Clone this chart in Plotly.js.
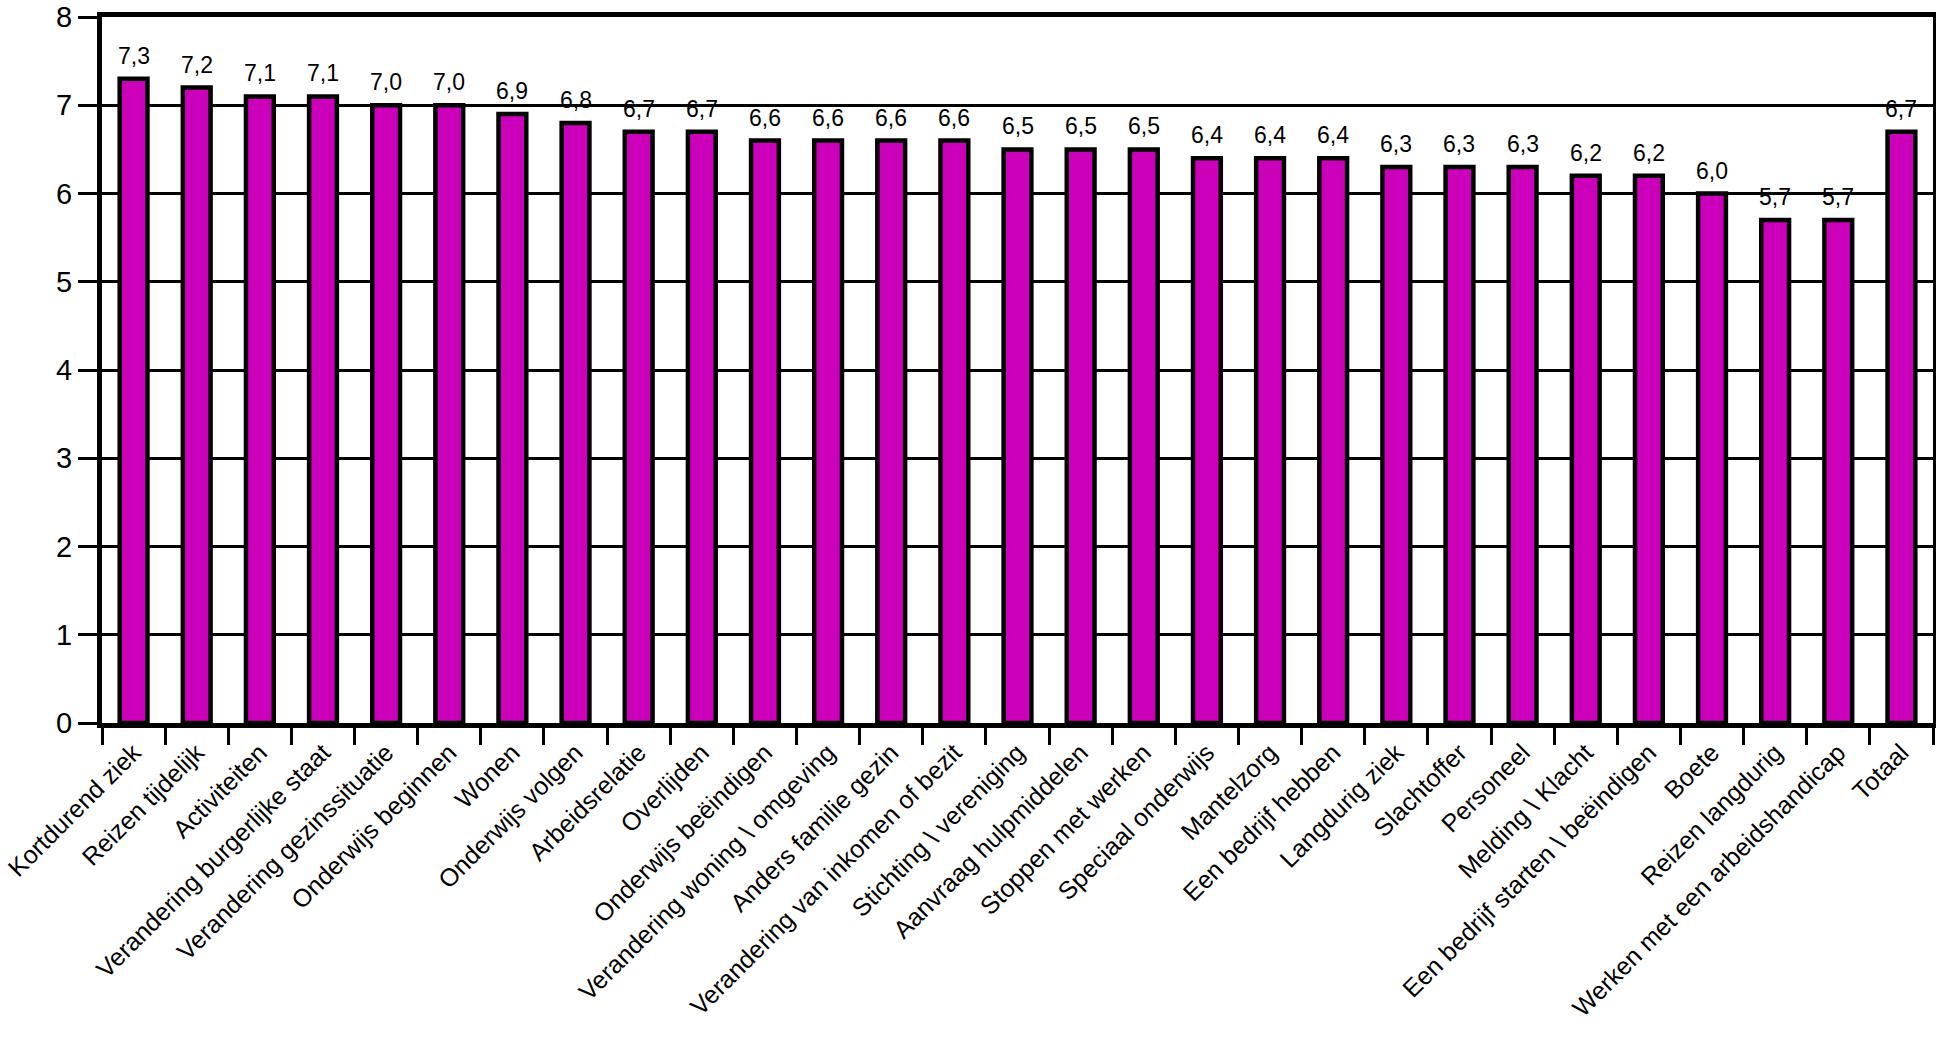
<!DOCTYPE html>
<html>
<head>
<meta charset="utf-8">
<script src="https://cdn.plot.ly/plotly-3.0.1.min.js"></script>
<style>html,body{margin:0;padding:0;background:#fff;}#chart{width:1936px;height:1042px;}</style>
</head>
<body>
<div id="chart"></div>
<script>
const categories = [
  "Kortdurend ziek", "Reizen tijdelijk", "Activiteiten", "Verandering burgerlijke staat",
  "Verandering gezinssituatie", "Onderwijs beginnen", "Wonen", "Onderwijs volgen",
  "Arbeidsrelatie", "Overlijden", "Onderwijs beëindigen", "Verandering woning \\ omgeving",
  "Anders familie gezin", "Verandering van inkomen of bezit", "Stichting \\ vereniging",
  "Aanvraag hulpmiddelen", "Stoppen met werken", "Speciaal onderwijs", "Mantelzorg",
  "Een bedrijf hebben", "Langdurig ziek", "Slachtoffer", "Personeel", "Melding \\ Klacht",
  "Een bedrijf starten \\ beëindigen", "Boete", "Reizen langdurig",
  "Werken met een arbeidshandicap", "Totaal"
];
const scores = [7.3, 7.2, 7.1, 7.1, 7.0, 7.0, 6.9, 6.8, 6.7, 6.7, 6.6, 6.6, 6.6, 6.6,
  6.5, 6.5, 6.5, 6.4, 6.4, 6.4, 6.3, 6.3, 6.3, 6.2, 6.2, 6.0, 5.7, 5.7, 6.7];
const yTicks = [0, 1, 2, 3, 4, 5, 6, 7, 8];

const font = "Liberation Sans, Arial, Helvetica, sans-serif";

const labelAnnotations = categories.map((c, i) => ({
  x: c, y: scores[i], xref: "x", yref: "y",
  text: scores[i].toFixed(1).replace(".", ","),
  showarrow: false, yanchor: "bottom", xanchor: "center", yshift: 8,
  font: { family: font, size: 23, color: "#000" }
}));

Plotly.newPlot("chart", [{
  type: "bar",
  x: categories,
  y: scores,
  width: 0.44,
  marker: { color: "#CC00BB", line: { color: "#000", width: 4.5 } },
  hoverinfo: "x+y"
}], {
  width: 1936, height: 1042,
  margin: { l: 102, r: 3, t: 17, b: 319 },
  paper_bgcolor: "#fff", plot_bgcolor: "#fff",
  separators: ",.",
  showlegend: false,
  font: { family: font, color: "#000" },
  annotations: labelAnnotations,
  xaxis: {
    type: "category",
    tickangle: -45,
    tickfont: { family: font, size: 25, color: "#000" },
    ticks: "outside", tickson: "boundaries", ticklen: 17, tickwidth: 3, tickcolor: "#000",
    showline: true, linecolor: "#000", linewidth: 5, mirror: true,
    showgrid: false
  },
  yaxis: {
    range: [0, 8],
    tickvals: yTicks,
    ticktext: yTicks.map(String),
    tickfont: { family: font, size: 29, color: "#000" },
    ticklabeloverflow: "allow",
    ticks: "outside", ticklen: 19, tickwidth: 3, tickcolor: "#000",
    showline: true, linecolor: "#000", linewidth: 5, mirror: true,
    showgrid: true, gridcolor: "#000", gridwidth: 3,
    zeroline: false
  }
}, { displayModeBar: false, staticPlot: true });
</script>
</body>
</html>
